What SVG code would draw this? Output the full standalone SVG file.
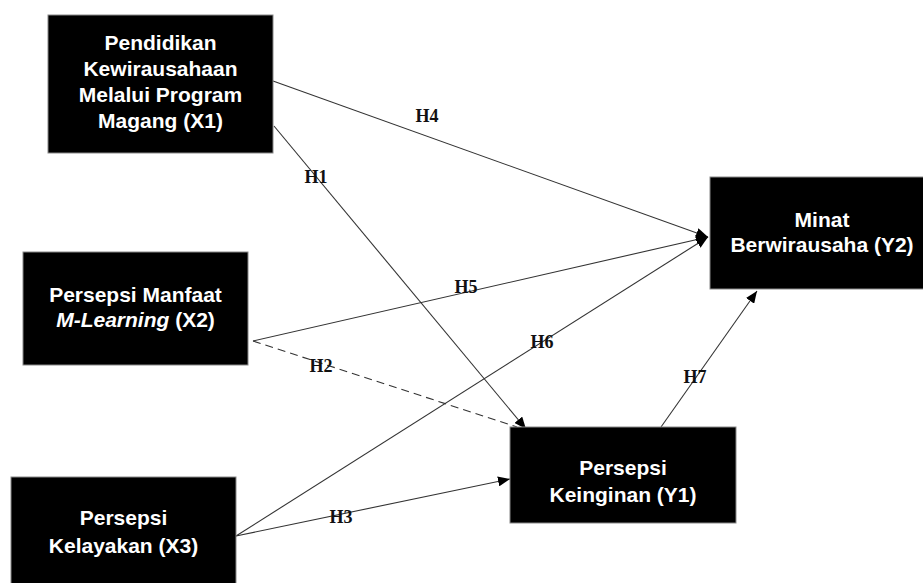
<svg xmlns="http://www.w3.org/2000/svg" width="923" height="583" viewBox="0 0 923 583">
<style>
.box{fill:#000;stroke:#888;stroke-width:1}
.t{font-family:"Liberation Sans",Arial,sans-serif;font-weight:bold;font-size:21px;fill:#fff;text-anchor:middle}
.ln{stroke:#333;stroke-width:1.1;fill:none}
.lbl{font-family:"Liberation Serif","Times New Roman",serif;font-weight:bold;font-size:18px;fill:#111;text-anchor:middle}
</style>
<defs>
<marker id="ah" viewBox="0 0 12 10" refX="12" refY="5" markerWidth="12" markerHeight="10" markerUnits="userSpaceOnUse" orient="auto">
<path d="M0,0 L12,5 L0,10 z" fill="#000"/>
</marker>
</defs>
<rect width="923" height="583" fill="#fff"/>
<g id="connectors">
<line class="ln" x1="273" y1="81" x2="708" y2="237" marker-end="url(#ah)"/>
<line class="ln" x1="274" y1="126" x2="526" y2="429" marker-end="url(#ah)"/>
<line class="ln" x1="253" y1="341" x2="708" y2="237" marker-end="url(#ah)"/>
<line class="ln" x1="253" y1="341" x2="517" y2="427" stroke-dasharray="8,5"/>
<line class="ln" x1="236" y1="536" x2="708" y2="237" marker-end="url(#ah)"/>
<line class="ln" x1="236" y1="536" x2="510" y2="479" marker-end="url(#ah)"/>
<line class="ln" x1="661" y1="427" x2="757" y2="291" marker-end="url(#ah)"/>
<text class="lbl" x="427" y="122">H4</text>
<text class="lbl" x="316" y="183">H1</text>
<text class="lbl" x="466" y="293">H5</text>
<text class="lbl" x="321" y="372">H2</text>
<text class="lbl" x="542" y="348">H6</text>
<text class="lbl" x="341" y="523">H3</text>
<text class="lbl" x="695" y="383">H7</text>
</g>
<g id="x1">
<rect class="box" x="48" y="15" width="225" height="138"/>
<text class="t" x="160.5" y="50">Pendidikan</text>
<text class="t" x="160.5" y="76">Kewirausahaan</text>
<text class="t" x="160.5" y="102">Melalui Program</text>
<text class="t" x="160.5" y="128">Magang (X1)</text>
</g>
<g id="x2">
<rect class="box" x="23" y="252" width="225" height="113"/>
<text class="t" x="135.5" y="302">Persepsi Manfaat</text>
<text class="t" x="135.5" y="327"><tspan font-style="italic">M-Learning</tspan> (X2)</text>
</g>
<g id="x3">
<rect class="box" x="11" y="477" width="225" height="120"/>
<text class="t" x="123.5" y="525">Persepsi</text>
<text class="t" x="123.5" y="553">Kelayakan (X3)</text>
</g>
<g id="y1">
<rect class="box" x="510" y="427" width="226" height="96"/>
<text class="t" x="623" y="475">Persepsi</text>
<text class="t" x="623" y="502">Keinginan (Y1)</text>
</g>
<g id="y2">
<rect class="box" x="710" y="177" width="225" height="112"/>
<text class="t" x="822" y="227">Minat</text>
<text class="t" x="822" y="252">Berwirausaha (Y2)</text>
</g>
</svg>
